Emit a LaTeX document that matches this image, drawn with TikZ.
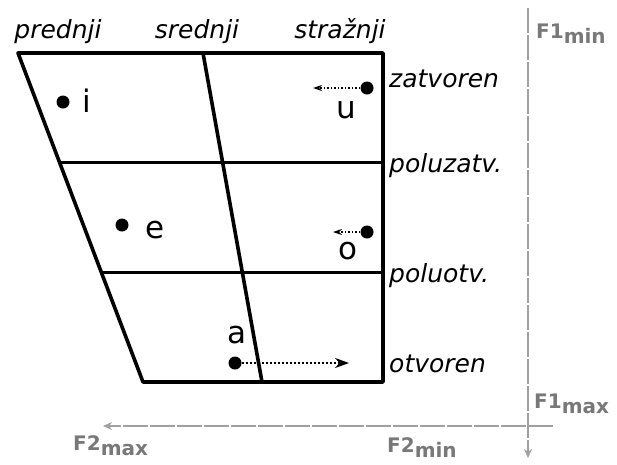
\documentclass[tikz,border=0pt]{standalone}
\usepackage{fontspec}
\setmainfont{DejaVu Sans}
\usetikzlibrary{arrows.meta,calc}
\definecolor{axisgray}{RGB}{160,160,160}
\definecolor{labelgray}{RGB}{120,120,120}
\tikzset{
  chart/.style={line width=3.6pt, line join=round},
  vdot/.style={circle, fill=black, inner sep=0pt, minimum size=13pt},
  vowel/.style={font=\fontsize{31}{31}\selectfont, inner sep=0pt, anchor=base},
  place/.style={font=\fontsize{25}{25}\selectfont\itshape, inner sep=0pt, anchor=base},
  side/.style={place, anchor=base west},
  vshift/.style={-{Stealth[length=14pt, width=10pt]}, dotted, line width=2pt},
  smallshift/.style={-{Stealth[length=9pt, width=6pt]}, dotted, line width=1.5pt},
  axis/.style={axisgray, line width=1.4pt, dash pattern=on 25pt off 2pt, -{Stealth[open, length=9pt, width=8pt]}},
  formant/.style={labelgray, font=\fontsize{20}{20}\selectfont\bfseries, inner sep=0pt, anchor=base west},
}
\newcommand{\fsub}[1]{\raisebox{-5pt}{#1}}

\begin{document}
\begin{tikzpicture}[x=1pt, y=-1pt]
  \useasboundingbox (0,0) rectangle (617,464);
  \coordinate (tl) at (18,53);
  \coordinate (tr) at (383,53);
  \coordinate (br) at (383,382);
  \coordinate (bl) at (143,382);
  \coordinate (midtop) at (203,53);
  \coordinate (midbot) at (262,382);
  \draw[chart] (tl) -- (tr) -- (br) -- (bl) -- cycle;
  \draw[chart] (midtop) -- (midbot);
  \draw[chart] ($(tl)!1/3!(bl)$) -- ($(tr)!1/3!(br)$);
  \draw[chart] ($(tl)!2/3!(bl)$) -- ($(tr)!2/3!(br)$);

  \node[place] (front) at (58,38) {prednji};
  \node[place] (central) at (197,38) {srednji};
  \node[place] (back) at (340,38) {stražnji};
  \node[side] (close) at (389,87) {zatvoren};
  \node[side] (closemid) at (389,172) {poluzatv.};
  \node[side] (openmid) at (389,282) {poluotv.};
  \node[side] (open) at (389,372) {otvoren};

  \node[vdot] (di) at (63,102) {};
  \node[vowel] (vi) at (87,112) {i};
  \node[vdot] (du) at (367,88) {};
  \coordinate (tu) at (313,88);
  \node[vowel] (vu) at (346,118) {u};
  \node[vdot] (de) at (122,225) {};
  \node[vowel] (ve) at (155,238) {e};
  \node[vdot] (do) at (367,232) {};
  \coordinate (to) at (333,232);
  \node[vowel] (vo) at (348,259) {o};
  \node[vowel] (va) at (237,343) {a};
  \node[vdot] (da) at (235,363) {};
  \coordinate (ta) at (349,363);
  \draw[smallshift] (du) -- (tu);
  \draw[smallshift] (do) -- (to);
  \draw[vshift] (da) -- (ta);

  \coordinate (f1top) at (528,8);
  \coordinate (f1bot) at (528,458);
  \coordinate (f2right) at (553,426);
  \coordinate (f2left) at (103,426);
  \draw[axis] (f1top) -- (f1bot);
  \draw[axis] (f2right) -- (f2left);
  \node[formant] (f1min) at (536,38) {F1\fsub{min}};
  \node[formant] (f1max) at (534,408) {F1\fsub{max}};
  \node[formant] (f2min) at (387,452) {F2\fsub{min}};
  \node[formant] (f2max) at (73,450) {F2\fsub{max}};
\end{tikzpicture}
\end{document}
